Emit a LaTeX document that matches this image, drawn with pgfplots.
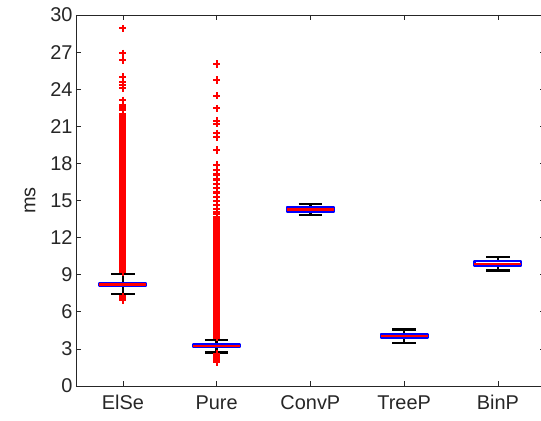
\documentclass[border=0pt]{standalone}
\usepackage{fontspec}
\setmainfont{Liberation Sans}
\usepackage{pgfplots}
\pgfplotsset{compat=1.18}
\usepgfplotslibrary{statistics}
\usetikzlibrary{calc}
\definecolor{axgray}{HTML}{262626}

\begin{document}
\begin{tikzpicture}
\begin{axis}[
  scale only axis, width=468.75bp, height=371bp,
  xmin=0.5, xmax=5.5, ymin=0, ymax=30,
  xtick={1,2,3,4,5}, xticklabels={ElSe,Pure,ConvP,TreeP,BinP},
  ytick={0,3,...,30},
  /pgf/number format/assume math mode=true,
  tick align=inside, major tick length=5bp,
  axis line style={axgray, line width=0.6bp},
  every tick/.style={axgray, line width=0.6bp},
  tick label style={font=\fontsize{20}{22}\selectfont, text=axgray},
  xticklabel style={yshift=-6bp},
  ylabel={ms},
  ylabel style={font=\fontsize{20}{22}\selectfont, text=axgray, at={(axis description cs:-0.098,0.5)}, anchor=center, rotate=0},
  boxplot/draw direction=y,
  boxplot/every box/.style={draw=blue, line width=2.2bp, line join=round},
  boxplot/every median/.style={draw=red, line width=2.4bp},
  boxplot/every whisker/.style={draw=black, line width=2.3bp},
  boxplot/box extend=0.5, boxplot/whisker extend=0.25,
  clip=false,
]
% ElSe
\addplot[red, mark=+, mark size=3.6bp, mark options={line width=2.1bp},
  boxplot prepared={draw position=1, median=8.2, lower quartile=8.09, upper quartile=8.33,
  lower whisker=7.44, upper whisker=9.05}]
  table[row sep=\\, y index=0] {v\\ 6.95\\ 7.1\\ 7.25\\
  9.2\\ 9.35\\ 9.5\\ 9.65\\ 9.8\\ 9.95\\ 10.1\\ 10.25\\ 10.4\\ 10.55\\ 10.7\\ 10.85\\
  11.0\\ 11.15\\ 11.3\\ 11.45\\ 11.6\\ 11.75\\ 11.9\\ 12.05\\ 12.2\\ 12.35\\ 12.5\\ 12.65\\
  12.8\\ 12.95\\ 13.1\\ 13.25\\ 13.4\\ 13.55\\ 13.7\\ 13.85\\ 14.0\\ 14.15\\ 14.3\\ 14.45\\
  14.6\\ 14.75\\ 14.9\\ 15.05\\ 15.2\\ 15.35\\ 15.5\\ 15.65\\ 15.8\\ 15.95\\ 16.1\\ 16.25\\
  16.4\\ 16.55\\ 16.7\\ 16.85\\ 17.0\\ 17.15\\ 17.3\\ 17.45\\ 17.6\\ 17.75\\ 17.9\\ 18.05\\
  18.2\\ 18.35\\ 18.5\\ 18.65\\ 18.8\\ 18.95\\ 19.1\\ 19.25\\ 19.4\\ 19.55\\ 19.7\\ 19.85\\
  20.0\\ 20.15\\ 20.3\\ 20.45\\ 20.6\\ 20.75\\ 20.9\\ 21.05\\ 21.2\\ 21.35\\ 21.5\\ 21.65\\
  21.8\\ 21.95\\ 22.3\\ 22.45\\ 22.6\\ 22.75\\ 23.1\\
  24.07\\ 24.35\\ 24.6\\ 25.0\\ 26.35\\ 26.9\\ 28.92\\};
% Pure
\addplot[red, mark=+, mark size=3.6bp, mark options={line width=2.1bp},
  boxplot prepared={draw position=2, median=3.25, lower quartile=3.15, upper quartile=3.35,
  lower whisker=2.72, upper whisker=3.72}]
  table[row sep=\\, y index=0] {v\\ 1.94\\ 2.08\\ 2.22\\ 2.36\\ 2.5\\ 2.62\\
  3.9\\ 4.05\\ 4.2\\ 4.35\\ 4.5\\ 4.65\\ 4.8\\ 4.95\\ 5.1\\ 5.25\\ 5.4\\ 5.55\\ 5.7\\ 5.85\\
  6.0\\ 6.15\\ 6.3\\ 6.45\\ 6.6\\ 6.75\\ 6.9\\ 7.05\\ 7.2\\ 7.35\\ 7.5\\ 7.65\\ 7.8\\ 7.95\\
  8.1\\ 8.25\\ 8.4\\ 8.55\\ 8.7\\ 8.85\\ 9.0\\ 9.15\\ 9.3\\ 9.45\\ 9.6\\ 9.75\\ 9.9\\ 10.05\\
  10.2\\ 10.35\\ 10.5\\ 10.65\\ 10.8\\ 10.95\\ 11.1\\ 11.25\\ 11.4\\ 11.55\\ 11.7\\ 11.85\\
  12.0\\ 12.15\\ 12.3\\ 12.45\\ 12.6\\ 12.75\\ 12.9\\ 13.05\\ 13.2\\ 13.35\\ 13.5\\
  13.7\\ 13.9\\ 14.1\\ 14.3\\ 14.6\\ 14.95\\ 15.3\\ 15.65\\ 16.0\\ 16.35\\
  16.7\\ 17.1\\ 17.5\\ 17.87\\ 19.08\\ 20.1\\ 20.43\\ 21.2\\ 21.45\\
  22.45\\ 23.47\\ 24.74\\ 26.04\\};
% ConvP
\addplot[red, mark=+, mark size=3.6bp, mark options={line width=2.1bp},
  boxplot prepared={draw position=3, median=14.27, lower quartile=14.07, upper quartile=14.47,
  lower whisker=13.8, upper whisker=14.72}]
  coordinates {};
% TreeP
\addplot[red, mark=+, mark size=3.6bp, mark options={line width=2.1bp},
  boxplot prepared={draw position=4, median=4.04, lower quartile=3.88, upper quartile=4.2,
  lower whisker=3.49, upper whisker=4.57}]
  coordinates {};
% BinP
\addplot[red, mark=+, mark size=3.6bp, mark options={line width=2.1bp},
  boxplot prepared={draw position=5, median=9.87, lower quartile=9.73, upper quartile=10.1,
  lower whisker=9.34, upper whisker=10.42}]
  coordinates {};
\end{axis}
\pgfresetboundingbox
\useasboundingbox ($(current axis.south west)+(-76bp,-35bp)$) rectangle ($(current axis.south west)+(465bp,386bp)$);
\end{tikzpicture}
\end{document}
